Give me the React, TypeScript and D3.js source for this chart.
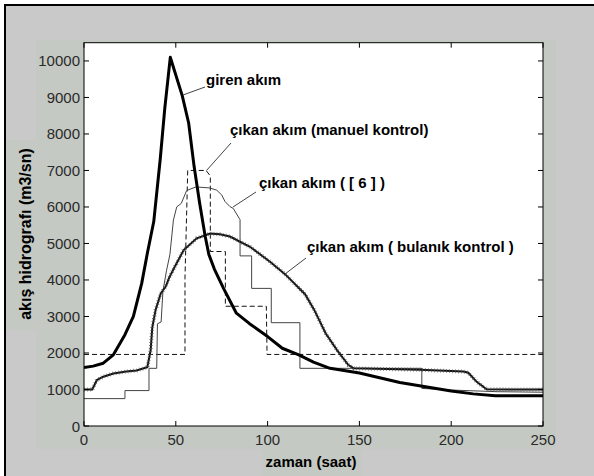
import React from "react";
import * as d3 from "d3";

type P = [number, number];

const xTicks = [0, 50, 100, 150, 200, 250];
const yTicks = [0, 1000, 2000, 3000, 4000, 5000, 6000, 7000, 8000, 9000, 10000];

// giren akım (inflow)
const girenT = [0, 5, 10.5, 16, 22.3, 26.9, 31.4, 34.5, 38, 41.5, 44, 47, 53.5, 57, 60, 63, 66, 68, 71, 76, 83, 90, 100, 108, 117, 125, 134, 150, 172, 200, 212, 224, 250];
const girenV = [1600, 1640, 1720, 1950, 2500, 3000, 3900, 4730, 5600, 7300, 8700, 10100, 9050, 8300, 7100, 6100, 5200, 4700, 4300, 3770, 3090, 2810, 2450, 2130, 1950, 1750, 1580, 1450, 1190, 960, 880, 830, 830];

// çıkan akım (manuel kontrol)
const manuelT = [0, 55, 55, 56.5, 66.5, 68.8, 68.8, 77, 77, 99.3, 99.7, 250];
const manuelV = [1960, 1960, 4050, 7000, 7000, 6850, 4780, 4780, 3280, 3280, 1960, 1960];

// çıkan akım ([6])
const ref6T = [0, 22.3, 22.3, 35.4, 35.4, 39.6, 40, 42, 43, 45, 46.8, 48.7, 50.5, 53, 55.9, 61, 68.6, 72.3, 75, 76.8, 79.5, 81.3, 85, 85, 91.3, 91.3, 102, 102, 117.6, 117.6, 184, 184, 200, 225, 250];
const ref6V = [750, 750, 970, 970, 1580, 1580, 2800, 2850, 3700, 4270, 4700, 5640, 6000, 6100, 6450, 6550, 6520, 6460, 6330, 6150, 6010, 5960, 5650, 4660, 4660, 3770, 3770, 2830, 2830, 1580, 1580, 1030, 985, 940, 925];

// çıkan akım (bulanık kontrol)
const fuzzyT = [0, 4.5, 7, 10.5, 16, 23, 28.6, 34.5, 36.3, 37.2, 39, 41.8, 44.5, 46.3, 49, 54.3, 61.4, 68.6, 74, 79.5, 90.4, 101.3, 109.5, 120.4, 125.4, 131.6, 137.8, 144, 147, 183, 206.6, 209.3, 213.9, 219.3, 250];
const fuzzyV = [1000, 1000, 1260, 1350, 1440, 1490, 1520, 1610, 2080, 2700, 3180, 3630, 3820, 4050, 4320, 4820, 5140, 5270, 5250, 5190, 4910, 4500, 4160, 3610, 3180, 2540, 2080, 1670, 1580, 1540, 1490, 1460, 1210, 1005, 1000];

const labels = ["giren akım", "çıkan akım (manuel kontrol)", "çıkan akım ( [ 6 ] )", "çıkan akım ( bulanık kontrol )"];

const W = 594;
const H = 476;
const L = 84, R = 543, T = 42.7, B = 426;

const x = d3.scaleLinear().domain([0, 250]).range([L, R]);
const y = d3.scaleLinear().domain([0, 10500]).range([B, T]);

const zip = (t: number[], v: number[]): P[] => t.map((d, i) => [d, v[i]]);
const line = d3.line<P>().x(d => x(d[0])).y(d => y(d[1]));

export default function App() {
  const font = "'Liberation Sans', Arial, sans-serif";
  const tickColor = "#2a2a2a";
  return (
    <svg width={W} height={H} style={{ position: "absolute", left: 0, top: 0, display: "block" }}>
      <rect x={0} y={0} width={W} height={H} fill="#ffffff" />
      <rect x={4} y={4} width={W - 4} height={H - 4} fill="#c9c9c9" />
      <rect x={36} y={40} width={520} height={409} fill="#c5c9c3" />
      <rect x={6} y={140} width={30} height={190} fill="#c5c9c3" />
      <rect x={263} y={449} width={98} height={27} fill="#c5c9c3" />
      <line x1={5} y1={4} x2={5} y2={H} stroke="#000" strokeWidth={2} />
      <line x1={4} y1={5} x2={W} y2={5} stroke="#000" strokeWidth={2} />

      <rect x={L} y={T} width={R - L} height={B - T} fill="#fff" />

      <g clipPath="url(#clip)">
        <defs>
          <clipPath id="clip">
            <rect x={L} y={T} width={R - L} height={B - T} />
          </clipPath>
        </defs>
        <path d={line(zip(manuelT, manuelV)) || ""} fill="none" stroke="#111" strokeWidth={1} strokeDasharray="5 3" />
        <path d={line(zip(ref6T, ref6V)) || ""} fill="none" stroke="#444" strokeWidth={1} />
        <path d={line(zip(fuzzyT, fuzzyV)) || ""} fill="none" stroke="#111" strokeWidth={2} />
        <path d={line(zip(fuzzyT, fuzzyV)) || ""} fill="none" stroke="#555" strokeWidth={4} strokeDasharray="0.6 2.4" />
        <path d={line(zip(girenT, girenV)) || ""} fill="none" stroke="#000" strokeWidth={3} strokeLinejoin="round" />
      </g>

      {/* axes box */}
      <rect x={L} y={T} width={R - L} height={B - T} fill="none" stroke="#000" strokeWidth={1} />
      {xTicks.map(t => (
        <g key={"xt" + t}>
          <line x1={x(t)} x2={x(t)} y1={B} y2={B - 5} stroke="#000" />
          <line x1={x(t)} x2={x(t)} y1={T} y2={T + 5} stroke="#000" />
          <text x={x(t)} y={444.5} textAnchor="middle" fontFamily={font} fontSize={15} fill={tickColor}>{t}</text>
        </g>
      ))}
      {yTicks.map(v => (
        <g key={"yt" + v}>
          <line x1={L} x2={L + 5} y1={y(v)} y2={y(v)} stroke="#000" />
          <line x1={R} x2={R - 5} y1={y(v)} y2={y(v)} stroke="#000" />
          <text x={80} y={y(v) + 5.5} textAnchor="end" fontFamily={font} fontSize={15} fill={tickColor}>{v}</text>
        </g>
      ))}

      <text x={311} y={467} textAnchor="middle" fontFamily={font} fontSize={15} fontWeight="bold" fill="#000">zaman (saat)</text>
      <text transform="translate(31,234) rotate(-90)" textAnchor="middle" fontFamily={font} fontSize={16} fontWeight="bold" fill="#000">akış hidrografı (m3/sn)</text>

      {/* annotations */}
      <line x1={205} y1={87} x2={183} y2={95} stroke="#444" strokeWidth={1} />
      <line x1={231} y1={143} x2={206.5} y2={170.5} stroke="#444" strokeWidth={1} />
      <line x1={256} y1={192} x2={233} y2={207} stroke="#444" strokeWidth={1} />
      <line x1={306} y1={258} x2={285} y2={274} stroke="#444" strokeWidth={1} />
      <text x={206} y={85} fontFamily={font} fontSize={15} fontWeight="bold" fill="#000">{labels[0]}</text>
      <text x={230} y={135} fontFamily={font} fontSize={15} fontWeight="bold" fill="#000">{labels[1]}</text>
      <text x={259} y={188} fontFamily={font} fontSize={15} fontWeight="bold" fill="#000">{labels[2]}</text>
      <text x={307} y={252} fontFamily={font} fontSize={15} fontWeight="bold" fill="#000">{labels[3]}</text>
    </svg>
  );
}
